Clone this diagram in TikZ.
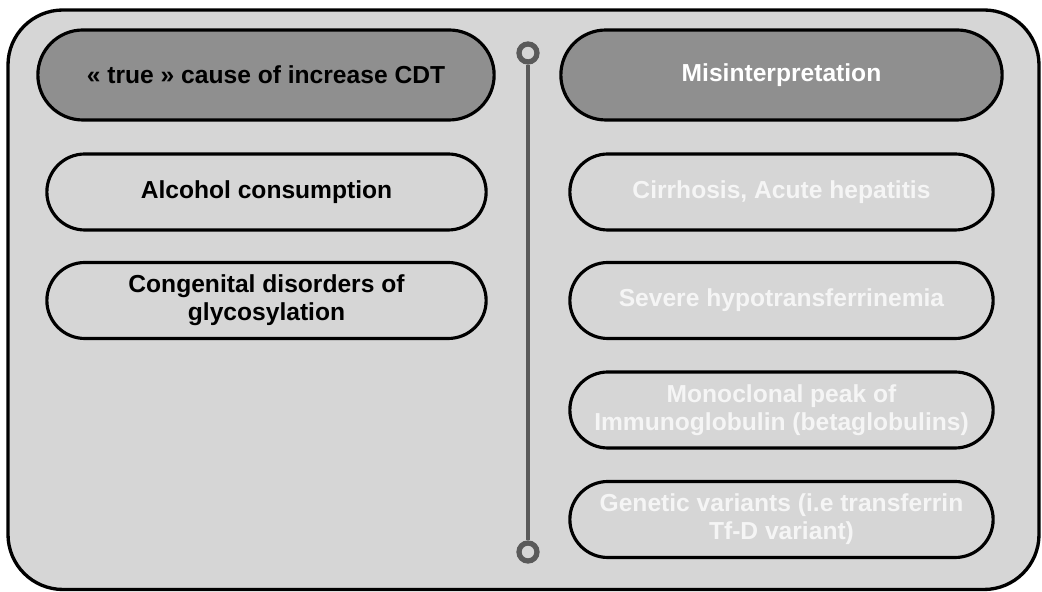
\documentclass[tikz,border=0pt]{standalone}
\usepackage{fontspec}
\setmainfont{Liberation Sans}
\usepackage{xcolor}
\usetikzlibrary{positioning,shapes.misc}

\definecolor{panelgray}{HTML}{D6D6D6}
\definecolor{headgray}{HTML}{8F8F8F}
\definecolor{axisgray}{HTML}{5A5A5A}

\begin{document}
\begin{tikzpicture}[
  pill/.style={draw, rounded rectangle, line width=1.8pt, minimum height=1.52cm, align=center, font=\fontsize{14}{16}\selectfont\bfseries},
  head/.style={pill, fill=headgray, minimum height=1.8cm},
  leftpill/.style={pill, minimum width=9.02cm},
  rightpill/.style={pill, minimum width=8.7cm, text=white!96!black},
  ring/.style={draw=axisgray, line width=3pt, fill=panelgray, circle, inner sep=0pt, minimum size=0.36cm}
]
\useasboundingbox (0,0) rectangle (20.84,11.84);

\draw[line width=1.9pt, fill=panelgray, rounded corners=1.1cm] (0.16,0.05) rectangle (20.78,11.64);

\node[head, minimum width=9.36cm] (true) at (5.32,10.34) {« true » cause of increase CDT};
\node[head, minimum width=9.06cm, text=white] (mis) at (15.63,10.34) {Misinterpretation};

\node[leftpill] (alcohol) at (5.33,8.0) {Alcohol consumption};
\node[leftpill] (cdg) at (5.33,5.83) {Congenital disorders of\\glycosylation};

\node[rightpill] (cirrh) at (15.63,8.0) {Cirrhosis, Acute hepatitis};
\node[rightpill] (hypo) at (15.63,5.83) {Severe hypotransferrinemia};
\node[rightpill] (mono) at (15.63,3.64) {Monoclonal peak of\\Immunoglobulin (betaglobulins)};
\node[rightpill] (genet) at (15.63,1.45) {Genetic variants (i.e transferrin\\Tf-D variant)};

\node[ring] (top) at (10.56,10.78) {};
\node[ring] (bottom) at (10.56,0.8) {};
\draw[axisgray, line width=2.4pt] (top) -- (bottom);

\end{tikzpicture}
\end{document}
